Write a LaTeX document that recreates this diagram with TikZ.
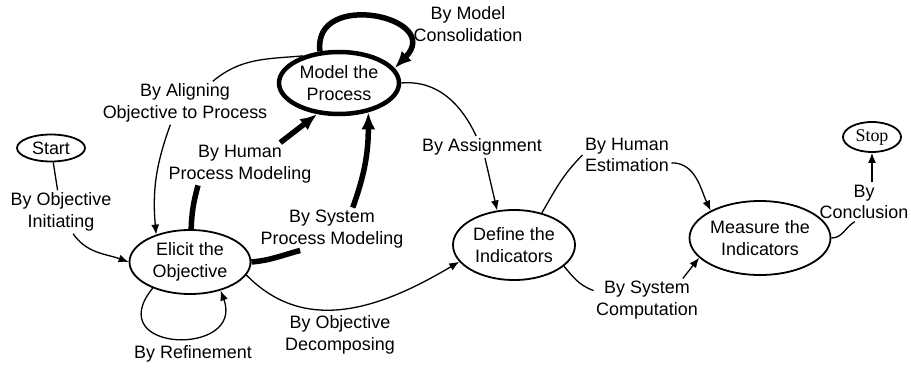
\documentclass[tikz,border=0pt]{standalone}
\usepackage{fontspec}
\setmainfont{Liberation Sans}
\newfontfamily\stopfont{Liberation Serif}
\usetikzlibrary{shapes.geometric,arrows.meta}
\begin{document}
\begin{tikzpicture}[x=1bp,y=1bp,>={Latex[length=10bp,width=8bp]},line width=1.3bp]
\tikzstyle{every node}=[font=\fontsize{18}{21.5}\selectfont]
\tikzstyle{state}=[draw,ellipse,inner sep=0pt,line width=1.8bp,align=center]
\tikzstyle{lbl}=[align=center,inner sep=2bp]
\tikzstyle{heavyline}=[line width=5.5bp]
\tikzstyle{heavy}=[line width=5.5bp,-{Latex[length=17bp,width=14bp]}]
\useasboundingbox (0,0) rectangle (911,367);
% states
\node[state,minimum width=68bp,minimum height=27bp](start) at (51,219) {Start};
\node[state,minimum width=121bp,minimum height=64bp](elicit) at (190,105) {Elicit the\\Objective};
\node[state,line width=4.5bp,minimum width=120bp,minimum height=62bp](model) at (339,284) {Model the\\Process};
\node[state,minimum width=122bp,minimum height=70bp](define) at (514,122) {Define the\\Indicators};
\node[state,minimum width=122bp,minimum height=74bp](measure) at (760,129) {Measure the\\Indicators};
\node[state,minimum width=58bp,minimum height=30bp,font=\stopfont\fontsize{18}{21.5}\selectfont](stop) at (872,230) {Stop};
% labels
\node[lbl](lInit) at (61,155) {By Objective\\Initiating};
\node[lbl](lAlign) at (185,264) {By Aligning\\Objective to Process};
\node[lbl](lHuman) at (240,203) {By Human\\Process Modeling};
\node[lbl](lSysMod) at (332,138) {By System\\Process Modeling};
\node[lbl](lConsol) at (468,343) {By Model\\Consolidation};
\node[lbl](lAssign) at (482,220) {By Assignment};
\node[lbl](lDecomp) at (340,32) {By Objective\\Decomposing};
\node[lbl](lRefine) at (193,13) {By Refinement};
\node[lbl](lEst) at (627,212) {By Human\\Estimation};
\node[lbl](lComp) at (647,67) {By System\\Computation};
\node[lbl](lConcl) at (864,165) {By\\Conclusion};
% transitions
\draw (start) -- (lInit);
\draw[->] (lInit.-61) to[out=-55,in=160] (elicit.west);
\draw (model.143) to[out=185,in=40] (lAlign.38);
\draw[->] (lAlign.236) to[out=250,in=95] (elicit.141);
\draw[heavyline] (elicit.88) to[out=88,in=255] (lHuman.207);
\draw[heavy] (lHuman.28) -- (model.235);
\draw[heavyline] (elicit.east) to[out=5,in=195] (lSysMod.214);
\draw[heavy] (lSysMod.46) to[out=70,in=270] (model.-45);
\draw[heavy] (model.121) .. controls (312,378) and (445,350) .. (model.15);
\draw (model.east) to[out=5,in=115] (lAssign.118);
\draw[->] (lAssign.-75) -- (define.116);
\draw[->] (elicit.-13) .. controls (305,32) and (380,58) .. (define.197);
\draw[->] (elicit.215) .. controls (100,14) and (245,10) .. (elicit.-43);
\draw (define.49) to[out=60,in=225] (lEst.west);
\draw[->] (lEst.-10) to[out=0,in=115] (measure.151);
\draw (define.-23) to[out=-50,in=160] (lComp.170);
\draw[->] (lComp.31) -- (measure.198);
\draw (measure.east) to[out=0,in=210] (lConcl.-115);
\draw[->] (stop.south |- lConcl.north) -- (stop.south);
\end{tikzpicture}
\end{document}
